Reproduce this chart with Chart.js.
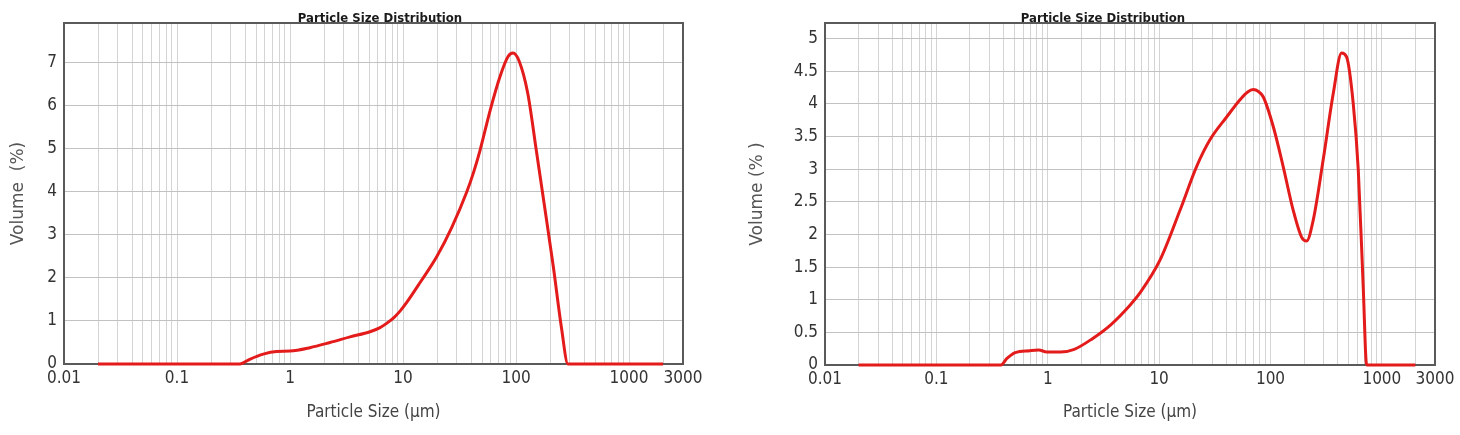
<!DOCTYPE html>
<html>
<head>
<meta charset="utf-8">
<script src="https://cdn.jsdelivr.net/npm/chart.js@4.4.0/dist/chart.umd.min.js"></script>
<style>
  body { margin: 0; background: #fff; }
  .panel { position: absolute; top: 0; width: 730px; height: 435px; }
</style>
</head>
<body>
<div class="panel" style="left:0"><canvas id="graficoA" width="730" height="435"></canvas></div>
<div class="panel" style="left:730px"><canvas id="graficoB" width="730" height="435"></canvas></div>
<script>
// Datos (tamano en um, volumen en %)
const tamanosA = [0.02, 0.36, 0.44, 0.58, 0.76, 1.0, 1.5, 2.26, 3.4, 5.1, 6.2, 7.2, 8.3, 9.4, 10.7, 14.2, 19.9, 27, 36.6, 42, 48, 59, 72, 85, 94, 107, 127, 151, 179, 214, 252, 288, 2000];
const volumenA = [0, 0, 0.11, 0.23, 0.29, 0.30, 0.38, 0.50, 0.63, 0.75, 0.84, 0.95, 1.08, 1.23, 1.42, 1.90, 2.50, 3.18, 4.0, 4.45, 4.97, 5.9, 6.68, 7.15, 7.23, 7.03, 6.29, 4.97, 3.65, 2.25, 0.85, 0, 0];

const tamanosB = [0.02, 0.38, 0.43, 0.51, 0.69, 0.83, 0.98, 1.3, 1.73, 2.5, 3.7, 5.5, 6.7, 10.2, 15.4, 21.7, 28.6, 40.4, 53, 62, 70, 78, 86, 106, 130, 160, 190, 211, 242, 297, 366, 435, 482, 553, 614, 680, 730, 2000];
const volumenB = [0, 0, 0.10, 0.19, 0.22, 0.23, 0.20, 0.20, 0.24, 0.40, 0.62, 0.92, 1.10, 1.61, 2.37, 3.04, 3.45, 3.80, 4.06, 4.18, 4.22, 4.19, 4.11, 3.65, 3.04, 2.37, 1.96, 1.90, 2.22, 3.14, 4.16, 4.78, 4.72, 4.01, 2.99, 1.20, 0, 0];

const decadas = [0.01, 0.1, 1, 10, 100, 1000];
const multiplos = [1, 2, 3, 4, 5, 6, 7, 8, 9];
const etiquetasX = [0.01, 0.1, 1, 10, 100, 1000, 3000];

let marcasX = [];
decadas.forEach(d => multiplos.forEach(m => { let v = Number((d * m).toPrecision(6)); if (v <= 3000) marcasX.push(v); }));

const fuenteEstrecha = "'Liberation Sans Narrow', 'DejaVu Sans Condensed', 'Arial Narrow', sans-serif";

// Marco alrededor del area (debajo de la curva) y titulo encima
const marcoPlugin = {
    id: 'marco',
    beforeDatasetsDraw(chart) {
        const { ctx, chartArea: a } = chart;
        ctx.save();
        ctx.strokeStyle = '#5a5a5a'; ctx.lineWidth = 2;
        ctx.strokeRect(a.left, a.top, a.right - a.left, a.bottom - a.top);
        ctx.restore();
    },
    afterDraw(chart, args, opts) {
        const { ctx, chartArea: a } = chart;
        ctx.save();
        ctx.font = 'bold 13px ' + fuenteEstrecha;
        ctx.fillStyle = '#1a1a1a'; ctx.textAlign = 'center'; ctx.textBaseline = 'alphabetic';
        ctx.fillText(opts.texto, opts.x, a.top - 1);
        ctx.restore();
    }
};

function crearGrafico(id, tamanos, volumen, cfg) {
    let puntos = tamanos.map((t, i) => ({ x: t, y: volumen[i] }));
    return new Chart(document.getElementById(id), {
        type: 'line',
        data: {
            datasets: [{
                data: puntos,
                borderColor: '#e41b1b', borderWidth: 3, pointRadius: 0,
                cubicInterpolationMode: 'monotone', fill: false, clip: false
            }]
        },
        plugins: [marcoPlugin],
        options: {
            responsive: false, animation: false,
            layout: { padding: { top: 23, right: cfg.padDer, left: 0, bottom: 0 } },
            plugins: {
                legend: { display: false }, tooltip: { enabled: false },
                marco: { texto: 'Particle Size Distribution', x: cfg.tituloX }
            },
            scales: {
                x: {
                    type: 'logarithmic', min: 0.01, max: 3000,
                    afterBuildTicks: s => { s.ticks = marcasX.map(v => ({ value: v })); },
                    afterFit: s => { s.height = cfg.altoX; },
                    grid: { color: '#d4d4d4', drawTicks: false },
                    border: { display: false },
                    ticks: {
                        autoSkip: false, maxRotation: 0, padding: 4, color: '#333',
                        font: { family: fuenteEstrecha, size: 17 },
                        callback: v => etiquetasX.includes(v) ? String(v) : ''
                    },
                    title: { display: true, text: 'Particle Size (µm)', color: '#444', font: { family: fuenteEstrecha, size: 17 }, padding: { top: 0, bottom: 12 } }
                },
                y: {
                    min: 0, max: cfg.maxY,
                    afterFit: s => { s.width = cfg.anchoY; },
                    grid: { color: '#c2c2c2', drawTicks: false },
                    border: { display: false },
                    ticks: {
                        stepSize: cfg.pasoY, includeBounds: false, padding: 7, color: '#333',
                        font: { family: fuenteEstrecha, size: 17 },
                        callback: v => String(Number(v.toFixed(2)))
                    },
                    title: { display: true, text: cfg.tituloY, color: '#555', font: { family: "'DejaVu Sans', sans-serif", size: 17 }, padding: { top: cfg.padTituloY, bottom: 0 } }
                }
            }
        }
    });
}

crearGrafico('graficoA', tamanosA, volumenA, { padDer: 47, anchoY: 64, altoX: 71, maxY: 7.93, pasoY: 1, tituloX: 380, tituloY: 'Volume  (%)', padTituloY: 8 });
crearGrafico('graficoB', tamanosB, volumenB, { padDer: 25, anchoY: 95, altoX: 70, maxY: 5.24, pasoY: 0.5, tituloX: 373, tituloY: 'Volume (% )', padTituloY: 17 });
</script>
</body>
</html>
